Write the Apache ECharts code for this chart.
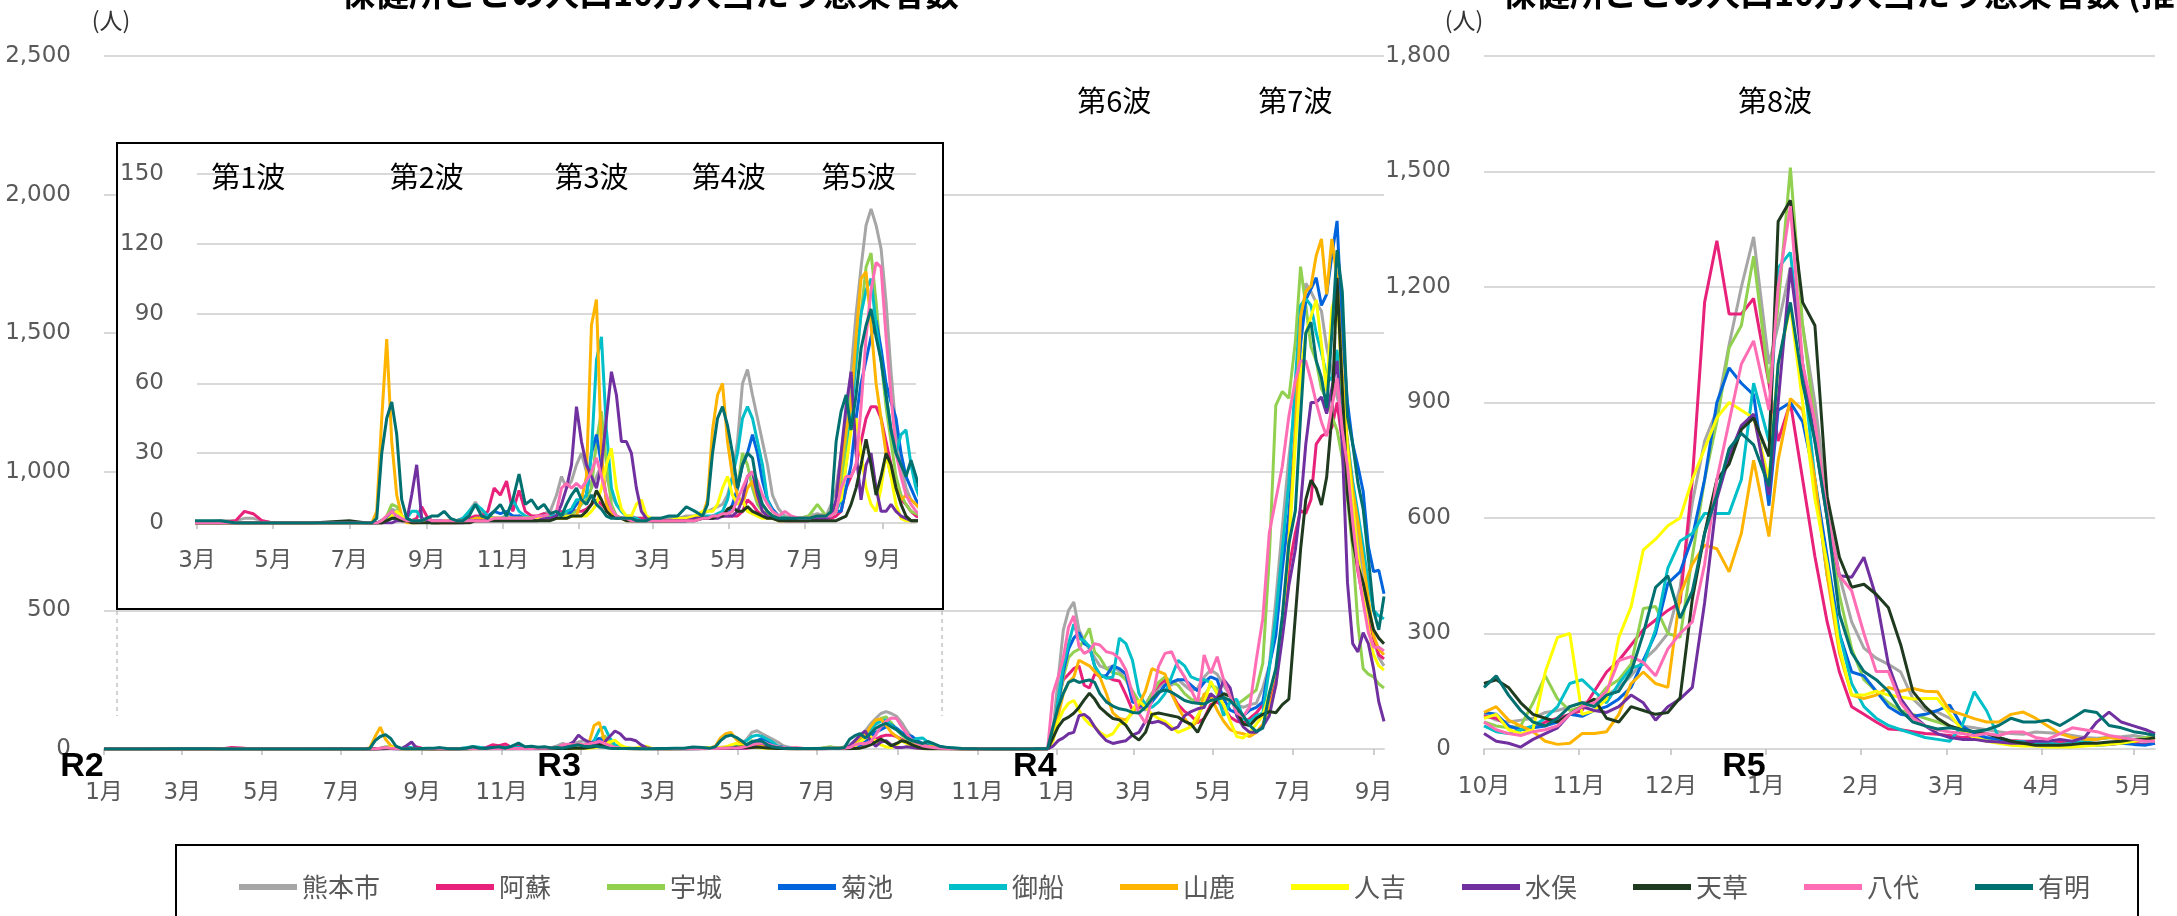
<!DOCTYPE html>
<html><head><meta charset="utf-8">
<script src="https://cdn.jsdelivr.net/npm/echarts@6/dist/echarts.min.js"></script>
<style>html,body{margin:0;padding:0;background:#fff;overflow:hidden}#c{width:2177px;height:916px}</style>
</head><body><div id="c"></div>
<script>
const names = ['熊本市','阿蘇','宇城','菊池','御船','山鹿','人吉','水俣','天草','八代','有明'];
const colors = ['#A6A6A6','#E8217A','#92D050','#0064DC','#00BFC8','#FFB400','#FFFF00','#7030A0','#1F3A1F','#FF6EB4','#007070'];

// ---- left chart / inset dates (R2-R4)
const dates1 = [
'2020-01-01','2020-02-01','2020-03-01','2020-03-20','2020-04-01','2020-04-08','2020-04-15','2020-04-22','2020-05-01','2020-06-01','2020-07-01','2020-07-15',
'2020-07-19','2020-07-23','2020-07-27','2020-07-31','2020-08-04','2020-08-08','2020-08-12','2020-08-16','2020-08-20','2020-08-24','2020-08-28','2020-09-01','2020-09-05','2020-09-10','2020-09-15','2020-09-20','2020-09-25','2020-09-30',
'2020-10-05','2020-10-10','2020-10-15','2020-10-20','2020-10-25','2020-10-30','2020-11-04','2020-11-09','2020-11-14','2020-11-19','2020-11-24','2020-11-29','2020-12-04','2020-12-09','2020-12-14','2020-12-18','2020-12-22','2020-12-26','2020-12-30',
'2021-01-03','2021-01-07','2021-01-11','2021-01-15','2021-01-19','2021-01-23','2021-01-27','2021-01-31','2021-02-04','2021-02-08','2021-02-12','2021-02-16','2021-02-20','2021-02-24','2021-02-28',
'2021-03-07','2021-03-14','2021-03-21','2021-03-28','2021-04-04','2021-04-10',
'2021-04-14','2021-04-18','2021-04-22','2021-04-26','2021-04-30','2021-05-04','2021-05-08','2021-05-12','2021-05-16','2021-05-20','2021-05-24','2021-05-28','2021-06-01','2021-06-05','2021-06-10','2021-06-15','2021-06-20',
'2021-06-27','2021-07-04','2021-07-11','2021-07-18',
'2021-07-22','2021-07-26','2021-07-30','2021-08-03','2021-08-07','2021-08-11','2021-08-15','2021-08-19','2021-08-23','2021-08-27','2021-08-31','2021-09-04','2021-09-08','2021-09-12','2021-09-16','2021-09-20','2021-09-24','2021-09-28','2021-10-03',
'2021-10-10','2021-10-20','2021-11-01','2021-11-15','2021-12-01','2021-12-15','2021-12-25',
'2021-12-29','2022-01-02','2022-01-06','2022-01-10','2022-01-14','2022-01-18','2022-01-22','2022-01-26','2022-01-30','2022-02-03','2022-02-08','2022-02-13','2022-02-18','2022-02-23','2022-02-28','2022-03-05','2022-03-10','2022-03-15','2022-03-20','2022-03-25','2022-03-30','2022-04-04','2022-04-09','2022-04-14','2022-04-19','2022-04-24','2022-04-29','2022-05-04','2022-05-09','2022-05-14','2022-05-19','2022-05-24','2022-05-29','2022-06-03','2022-06-08','2022-06-13','2022-06-18','2022-06-23','2022-06-28','2022-07-03','2022-07-07','2022-07-11','2022-07-15','2022-07-19','2022-07-23','2022-07-27','2022-07-31','2022-08-04','2022-08-08','2022-08-12','2022-08-16','2022-08-20','2022-08-24','2022-08-28','2022-09-01','2022-09-05','2022-09-09'
];

const kumamoto1 = [0,0,0,1,1,2,2,1,0,0,0,0,
0,0,1,3,6,5,3,2,1,1,1,2,1,1,1,1,1,1,
5,9,5,3,2,2,3,2,3,2,2,3,4,5,12,20,15,18,25,
30,22,15,20,25,20,12,8,5,3,3,2,2,2,2,
2,2,2,3,3,4,
5,6,7,8,12,20,35,60,66,55,45,35,25,12,6,3,2,
2,3,4,3,
8,15,30,45,65,90,110,128,135,128,118,95,65,40,25,15,10,8,5,
3,2,1,1,1,1,2,
69,250,430,500,530,430,390,360,330,300,290,300,280,250,200,150,140,170,220,240,230,250,230,210,220,260,285,270,230,190,160,150,160,165,220,
300,538,800,1050,1250,1480,1680,1650,1610,1580,1450,1360,1270,1200,1050,880,760,600,500,400,330,300];

const aso1 = [0,0,0,0,1,5,4,1,0,0,0,0,
0,0,0,1,2,2,1,1,1,2,7,3,1,1,1,1,1,2,
2,3,3,5,15,12,18,5,14,5,3,3,4,3,3,5,4,6,5,
5,6,8,10,8,6,4,3,2,2,2,2,2,2,1,
1,1,2,2,2,2,
2,2,3,3,3,3,3,5,10,8,5,3,2,2,1,1,1,
1,1,2,2,
2,3,5,15,20,25,35,45,50,50,45,35,25,15,10,8,5,3,2,
1,1,0,0,0,0,1,
40,180,250,270,290,300,230,220,270,265,260,250,245,195,140,150,160,200,230,250,200,160,135,120,95,110,160,170,150,115,100,95,110,130,160,
170,250,450,650,780,860,850,900,1100,1128,1140,1160,1250,1110,930,760,640,540,460,400,340,325];

const uki1 = [0,0,0,0,0,0,0,0,0,0,0,0,
0,0,1,3,8,7,3,1,1,1,1,1,0,0,1,1,1,1,
1,2,2,2,2,2,2,1,2,2,2,2,2,3,3,4,4,4,5,
8,10,15,35,48,25,8,3,2,2,1,1,1,1,1,
1,1,1,1,2,2,
2,3,3,4,4,5,15,30,25,15,8,5,4,3,2,2,2,
2,3,8,3,
3,5,15,35,55,68,90,110,116,95,70,50,35,20,12,8,5,4,3,
2,1,1,0,0,0,1,
30,150,260,330,350,360,400,435,350,330,290,275,270,250,210,170,160,200,240,260,240,230,200,180,170,190,230,220,190,170,160,177,195,213,309,
690,1240,1290,1265,1470,1740,1600,1450,1400,1300,1260,1200,1150,1050,900,720,450,290,270,260,235,220];

const kikuchi1 = [0,0,0,0,0,0,0,0,0,0,0,0,
0,0,1,2,5,3,2,1,1,1,1,1,0,0,1,1,1,1,
1,2,2,3,5,4,5,3,3,2,2,2,3,3,3,3,3,5,8,
10,12,30,38,25,10,5,3,2,2,1,1,1,1,1,
1,1,1,1,2,2,
2,3,3,3,4,8,15,25,30,38,30,18,10,6,3,2,2,
2,2,3,3,
3,5,5,15,25,45,60,70,80,87,75,60,52,45,30,20,15,10,6,
3,1,1,0,0,0,1,
40,160,280,360,400,420,380,370,300,260,265,300,290,270,170,160,150,170,200,230,240,250,250,230,210,240,260,250,180,140,130,120,140,150,170,
300,410,650,850,1140,1460,1620,1660,1700,1600,1640,1780,1905,1500,1250,1100,1020,930,730,640,645,560];

const mifune1 = [0,0,0,0,0,0,0,0,0,0,0,0,
0,0,0,1,2,2,1,2,5,5,2,1,1,1,1,1,1,2,
5,8,6,3,2,2,3,10,5,3,2,2,3,3,3,4,5,6,10,
10,12,30,70,80,40,15,8,5,3,2,2,1,1,1,
1,1,2,2,2,3,
3,3,4,5,10,20,30,45,50,45,35,25,10,5,3,2,2,
2,2,3,3,
3,5,10,25,45,70,90,100,105,85,70,55,40,30,38,40,25,15,8,
4,2,1,0,0,0,1,
50,180,300,380,450,400,390,370,300,270,255,260,400,380,320,200,160,150,170,200,260,320,300,260,250,250,240,200,120,170,180,110,100,120,129,
290,480,720,960,1330,1600,1625,1600,1500,1430,1350,1330,1440,1250,1110,965,850,730,600,500,480,470];

const yamaga1 = [0,0,0,0,0,0,0,0,0,0,0,0,
0,5,45,79,35,12,3,0,0,0,1,1,1,0,0,0,0,1,
1,2,2,2,2,2,2,2,2,2,2,2,2,2,2,2,2,3,3,
10,20,85,96,30,8,4,3,2,1,1,1,1,1,1,
1,1,1,2,2,3,
10,40,55,60,35,20,12,8,15,18,10,8,5,3,2,2,2,
2,2,3,3,
3,5,25,40,50,80,105,108,85,60,45,30,20,15,10,12,10,8,5,
3,1,1,0,0,0,1,
30,120,200,240,260,320,310,300,280,260,200,130,110,105,130,160,210,290,280,270,200,150,110,80,100,200,190,140,100,70,60,55,45,60,90,
150,230,440,750,1150,1560,1650,1670,1780,1840,1640,1840,1700,1350,1100,935,820,680,540,410,360,340];

const hitoyoshi1 = [0,0,0,0,0,0,0,0,0,0,0,0,
0,0,0,1,3,5,3,1,1,1,1,1,0,0,1,1,1,1,
1,1,1,2,2,2,2,2,2,2,2,2,2,2,2,2,3,3,3,
3,3,5,8,15,25,32,15,6,3,3,8,10,3,2,
1,1,2,2,3,5,
5,5,8,15,20,12,8,10,5,4,3,2,2,2,1,1,1,
1,2,3,3,
5,8,10,25,40,45,30,15,8,5,15,30,20,8,2,1,1,1,1,
1,0,0,0,0,0,1,
30,100,140,165,175,140,110,90,80,60,45,55,90,95,140,175,150,125,110,100,80,60,70,80,120,160,245,200,160,100,45,40,60,90,120,
200,280,450,730,1100,1350,1500,1560,1620,1460,1290,1590,1650,1300,1080,880,700,560,440,340,300,285];

const minamata1 = [0,0,0,0,0,0,0,0,0,0,0,0,
0,0,0,0,0,1,1,1,12,25,2,1,0,0,0,0,0,0,
1,1,1,1,1,1,1,1,1,1,1,1,2,2,3,8,15,25,50,
35,25,20,15,25,45,65,55,35,35,30,15,5,2,1,
1,1,1,1,2,2,
2,2,2,3,3,3,5,10,20,22,12,5,3,2,2,1,1,
1,1,2,2,
3,10,30,50,65,30,10,25,30,15,5,5,8,5,3,2,1,1,1,
1,0,0,0,0,0,0,
10,30,40,55,60,120,125,110,80,55,30,20,25,30,50,60,100,95,100,90,70,80,120,135,145,150,200,180,250,220,120,80,60,60,80,
120,230,400,590,720,880,1100,1250,1250,1270,1210,1300,1400,1100,600,380,350,420,380,290,170,100];

const amakusa1 = [0,0,0,0,0,0,0,0,0,0,1,0,
0,0,0,1,2,2,1,1,0,0,0,0,0,0,0,0,0,0,
0,1,1,1,1,1,1,1,1,1,1,1,1,1,2,2,2,3,3,
3,5,8,14,10,5,3,2,2,1,1,1,1,1,1,
1,1,1,1,1,2,
2,2,3,3,6,7,5,5,7,5,4,3,2,2,1,1,1,
1,1,1,1,
1,1,2,3,8,15,25,36,25,12,20,30,25,15,8,3,1,1,1,
1,0,0,0,0,0,0,
40,80,105,115,129,150,177,201,180,150,129,110,105,85,50,32,60,125,130,125,120,115,100,90,60,110,150,180,200,190,140,90,85,110,125,
135,131,160,180,480,720,900,970,940,880,980,1200,1700,1300,920,750,660,600,510,430,400,380];

const yatsushiro1 = [0,0,0,0,0,0,0,0,0,0,0,0,
0,0,1,3,5,3,2,1,1,1,1,2,1,1,1,1,1,1,
1,1,1,1,2,2,2,2,2,2,2,3,3,4,5,15,17,15,17,
15,18,22,28,20,12,6,3,2,2,1,1,1,1,1,
1,1,1,1,1,2,
2,3,3,4,4,5,10,15,20,22,18,12,8,5,3,5,3,
2,2,3,3,
3,5,15,20,20,25,50,80,100,112,110,80,55,30,20,12,8,5,3,
2,1,0,0,0,0,1,
200,260,330,440,480,370,345,355,380,375,351,345,327,285,200,129,93,180,297,345,351,297,260,213,165,339,273,333,249,189,129,117,153,321,470,
780,900,1020,1200,1330,1400,1400,1330,1250,1180,1128,1233,1338,1150,1020,820,650,530,420,367,367,354];

const ariake1 = [0,0,1,1,0,0,0,0,0,0,0,0,
0,2,30,45,52,38,10,2,1,1,1,2,3,3,5,2,1,1,
3,8,3,2,5,8,3,10,21,8,10,6,8,4,5,3,8,12,15,
10,8,12,8,6,3,2,2,2,2,2,1,1,1,2,
2,3,3,7,5,3,
8,30,45,50,42,30,15,25,30,28,15,8,5,3,2,2,2,
2,2,3,3,
5,35,48,55,40,55,75,85,92,80,70,55,40,30,25,20,27,20,10,
5,2,1,0,0,1,2,
80,150,201,240,249,240,245,249,240,200,170,155,145,141,132,130,150,180,205,213,205,190,175,168,165,162,175,180,185,175,150,120,85,63,75,
200,290,480,740,860,1200,1500,1540,1400,1340,1230,1500,1800,1650,1200,1100,960,866,690,500,430,550];

// ---- right chart dates (R4-R5, 推計値)
const dates2 = ['2022-10-01','2022-10-05','2022-10-09','2022-10-13','2022-10-17','2022-10-21','2022-10-25','2022-10-29',
'2022-11-02','2022-11-06','2022-11-10','2022-11-14','2022-11-18','2022-11-22','2022-11-26','2022-11-30',
'2022-12-04','2022-12-08','2022-12-12','2022-12-16','2022-12-20','2022-12-24','2022-12-28',
'2023-01-02','2023-01-05','2023-01-09','2023-01-13','2023-01-17','2023-01-21','2023-01-25','2023-01-29',
'2023-02-02','2023-02-06','2023-02-10','2023-02-14','2023-02-18','2023-02-22','2023-02-26',
'2023-03-02','2023-03-06','2023-03-10','2023-03-14','2023-03-18','2023-03-22','2023-03-26','2023-03-30',
'2023-04-03','2023-04-07','2023-04-11','2023-04-15','2023-04-19','2023-04-23','2023-04-27',
'2023-05-01','2023-05-05','2023-05-08'];

const kumamoto2 = [90,75,70,75,80,95,100,110,120,125,140,160,190,230,260,300,420,640,800,880,1050,1200,1330,1000,1100,1250,1100,900,650,450,330,262,236,220,200,130,100,96,80,60,55,50,45,40,38,44,42,40,35,30,28,30,32,35,30,28];
const aso2 = [85,80,60,50,55,70,80,90,100,150,200,230,270,310,335,360,380,700,1160,1320,1130,1130,1170,950,800,900,700,500,330,200,110,90,70,52,50,45,40,38,35,30,30,25,25,22,20,20,18,20,18,15,15,12,15,15,12,15];
const uki2 = [70,60,55,60,120,190,130,100,110,120,160,180,220,365,370,300,290,500,700,850,1042,1100,1280,950,1150,1510,1100,850,600,400,260,180,150,120,100,90,80,70,60,45,30,25,20,15,12,12,10,10,10,12,12,15,20,25,30,35];
const kikuchi2 = [95,90,60,50,55,60,70,90,85,100,110,130,160,230,300,430,460,550,700,900,990,950,920,632,880,900,850,700,500,300,200,190,150,110,90,85,90,100,114,60,40,30,25,20,18,15,12,12,10,12,10,12,15,12,10,15];
const mifune2 = [60,45,40,50,60,80,110,170,180,150,120,170,210,220,310,470,540,560,612,612,612,700,950,800,1250,1290,1000,700,450,300,170,110,80,61,50,40,30,25,20,60,149,100,30,20,18,15,15,12,15,20,25,30,30,25,20,20];
const yamaga2 = [95,110,75,60,45,20,12,15,40,40,45,90,170,200,170,160,400,480,530,520,460,560,750,552,750,910,880,700,450,250,140,131,140,160,150,157,150,149,100,90,79,70,70,90,96,80,60,40,30,25,25,30,25,20,25,30];
const hitoyoshi2 = [80,90,50,40,50,200,290,300,90,100,130,290,369,517,545,580,600,700,780,860,900,880,860,700,1000,1150,900,650,481,262,140,140,150,140,135,130,131,131,90,50,30,20,15,10,8,8,5,5,5,8,10,12,15,20,25,30];
const minamata2 = [40,20,15,5,25,40,55,90,110,100,95,110,140,120,75,110,130,160,380,650,760,840,870,660,900,1250,1000,800,600,450,446,498,394,219,131,87,60,40,30,25,25,20,18,15,15,20,20,25,20,30,70,96,70,60,50,40];
const amakusa2 = [170,180,160,120,90,80,70,90,110,130,80,70,110,100,90,95,133,390,560,700,740,830,860,760,1370,1425,1160,1100,656,498,420,428,402,367,271,149,110,80,60,50,45,40,30,20,15,10,10,10,12,15,15,18,20,25,25,30];
const yatsushiro2 = [70,50,40,35,45,50,60,90,110,120,150,230,240,225,190,260,300,330,480,700,850,1000,1060,880,1200,1410,1000,850,612,450,411,300,201,201,120,80,60,50,44,40,35,40,35,44,44,30,25,40,55,50,45,35,30,25,20,20];
const ariake2 = [160,190,140,100,70,60,80,110,120,110,140,150,200,300,420,450,340,410,560,660,780,820,790,682,1000,1160,950,800,600,350,250,201,180,150,100,70,60,52,55,50,45,50,61,80,70,70,75,61,80,100,95,61,55,45,40,35];

// ---- axis ticks
const ticksMain = ['2020-01-01','2020-03-01','2020-05-01','2020-07-01','2020-09-01','2020-11-01','2021-01-01','2021-03-01','2021-05-01','2021-07-01','2021-09-01','2021-11-01','2022-01-01','2022-03-01','2022-05-01','2022-07-01','2022-09-01'];
const ticksInset = ['2020-03-01','2020-05-01','2020-07-01','2020-09-01','2020-11-01','2021-01-01','2021-03-01','2021-05-01','2021-07-01','2021-09-01'];
const ticksRight = ['2022-10-01','2022-11-01','2022-12-01','2023-01-01','2023-02-01','2023-03-01','2023-04-01','2023-05-01'];

const waveNotes = [
  {axis:1, date:'2020-04-11', text:'第1波'}, {axis:1, date:'2020-09-01', text:'第2波'},
  {axis:1, date:'2021-01-11', text:'第3波'}, {axis:1, date:'2021-05-01', text:'第4波'},
  {axis:1, date:'2021-08-13', text:'第5波'}, {axis:0, date:'2022-02-14', text:'第6波'},
  {axis:0, date:'2022-07-03', text:'第7波'}, {axis:2, date:'2023-01-04', text:'第8波'}];
const eraNotes = [{axis:0, date:'2020-01-01', text:'R2'}, {axis:0, date:'2021-01-01', text:'R3'},
  {axis:0, date:'2022-01-01', text:'R4'}, {axis:2, date:'2023-01-01', text:'R5'}];

const series1 = [kumamoto1, aso1, uki1, kikuchi1, mifune1, yamaga1, hitoyoshi1, minamata1, amakusa1, yatsushiro1, ariake1];
const series2 = [kumamoto2, aso2, uki2, kikuchi2, mifune2, yamaga2, hitoyoshi2, minamata2, amakusa2, yatsushiro2, ariake2];
series1.forEach((a,i)=>{ if (a.length !== dates1.length) throw new Error('len1 '+names[i]+' '+a.length); });
series2.forEach((a,i)=>{ if (a.length !== dates2.length) throw new Error('len2 '+names[i]+' '+a.length); });

const ts = s => { const p = s.split('-'); return new Date(+p[0], +p[1]-1, +p[2]).getTime(); };
const FONT = "'DejaVu Sans','Noto Sans CJK JP',sans-serif";
const CJK = "'Noto Sans CJK JP',sans-serif";
const monthFmt = v => (new Date(v).getMonth()+1) + '月';
const numFmt = v => v.toLocaleString('en-US');
const pairs = (d, v) => d.map((s,i)=>[ts(s), v[i]]);

function xAx(grid, min, max, ticks, margin, z){
  return {type:'value', gridIndex:grid, min:ts(min), max:ts(max), z:z,
    axisLine:{show:true, lineStyle:{color:'#D9D9D9', width:2}},
    axisTick:{show:true, customValues:ticks.map(ts), length:6, lineStyle:{color:'#BFBFBF', width:1.5}},
    axisLabel:{show:true, customValues:ticks.map(ts), formatter:monthFmt, fontSize:23, color:'#595959', fontFamily:FONT, margin:margin},
    splitLine:{show:false}};
}
function yAx(grid, max, interval, z){
  return {type:'value', gridIndex:grid, min:0, max:max, interval:interval, z:z,
    axisLine:{show:false}, axisTick:{show:false},
    axisLabel:{formatter:numFmt, fontSize:23, color:'#595959', fontFamily:FONT, margin:33},
    splitLine:{show:true, lineStyle:{color:'#D9D9D9', width:2}}};
}

const seriesOpts = [];
names.forEach((n,i)=>{
  const base = {type:'line', name:n, symbol:'none', showSymbol:false, silent:true, animation:false,
    lineStyle:{width:3, color:colors[i]}, itemStyle:{color:colors[i]}};
  seriesOpts.push(Object.assign({}, base, {xAxisIndex:0, yAxisIndex:0, z:2, data:pairs(dates1, series1[i])}));
  seriesOpts.push(Object.assign({}, base, {xAxisIndex:1, yAxisIndex:1, z:5, data:pairs(dates1, series1[i])}));
  seriesOpts.push(Object.assign({}, base, {xAxisIndex:2, yAxisIndex:2, z:2, data:pairs(dates2, series2[i])}));
});

const chart = echarts.init(document.getElementById('c'), null, {renderer:'canvas'});
chart.setOption({
  animation:false,
  backgroundColor:'#fff',
  grid:[
    {left:104, top:56, width:1280, height:693},
    {left:197, top:174, width:719, height:349},
    {left:1484, top:56, width:671, height:693}
  ],
  xAxis:[
    xAx(0,'2020-01-01','2022-09-09',ticksMain,33,0),
    xAx(1,'2020-03-01','2021-09-28',ticksInset,27,4),
    xAx(2,'2022-10-01','2023-05-08',ticksRight,27,0)
  ],
  yAxis:[ yAx(0,2500,500,0), yAx(1,150,30,4), yAx(2,1800,300,0) ],
  legend:{data:names, left:234, top:869, icon:'rect', itemWidth:58, itemHeight:6, itemGap:56, selectedMode:false,
    textStyle:{fontSize:26, color:'#595959', fontFamily:CJK}},
  series:seriesOpts
});

const els = [];
// inset frame
els.push({type:'rect', z:3, silent:true, shape:{x:117, y:143, width:826, height:466}, style:{fill:'#fff', stroke:'#000', lineWidth:2}});
els.push({type:'line', z:3, silent:true, shape:{x1:117, y1:611, x2:117, y2:716}, style:{stroke:'#A6A6A6', lineWidth:1, lineDash:[4,4]}});
els.push({type:'line', z:3, silent:true, shape:{x1:942, y1:611, x2:942, y2:716}, style:{stroke:'#A6A6A6', lineWidth:1, lineDash:[4,4]}});
// legend frame
els.push({type:'rect', z:1, silent:true, shape:{x:176, y:845, width:1962, height:120}, style:{fill:'none', stroke:'#000', lineWidth:2}});
// titles (clipped by top edge)
els.push({type:'text', z:10, x:650, y:-7, style:{text:'保健所ごとの人口10万人当たり感染者数', font:"bold 34px 'Noto Sans CJK JP'", fill:'#000', align:'center', verticalAlign:'middle'}});
els.push({type:'text', z:10, x:1502, y:-7, style:{text:'保健所ごとの人口10万人当たり感染者数 (推計値)', font:"bold 34px 'Noto Sans CJK JP'", fill:'#000', align:'left', verticalAlign:'middle'}});
// unit labels
els.push({type:'text', z:10, x:111, y:20, style:{text:'(人)', font:"23px 'Noto Sans CJK JP'", fill:'#333', align:'center', verticalAlign:'middle'}});
els.push({type:'text', z:10, x:1464, y:20, style:{text:'(人)', font:"23px 'Noto Sans CJK JP'", fill:'#333', align:'center', verticalAlign:'middle'}});
// wave labels
waveNotes.forEach(w=>{
  const x = chart.convertToPixel({xAxisIndex:w.axis}, ts(w.date));
  const y = w.axis === 1 ? 177 : 101;
  els.push({type:'text', z:10, x:x, y:y, style:{text:w.text, font:"29px 'Noto Sans CJK JP'", fill:'#000', align:'center', verticalAlign:'middle'}});
});
eraNotes.forEach(e=>{
  const x = chart.convertToPixel({xAxisIndex:e.axis}, ts(e.date)) - 22;
  els.push({type:'text', z:10, x:x, y:767, style:{text:e.text, font:"bold 34px 'Liberation Sans'", fill:'#000', align:'center', verticalAlign:'middle'}});
});
chart.setOption({graphic:{elements:els}});
</script>
</body></html>
